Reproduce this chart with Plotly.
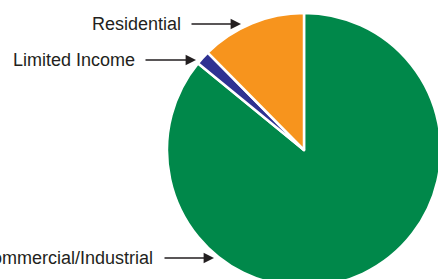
import plotly.graph_objects as go

labels = ["Residential", "Limited Income", "Commercial/Industrial"]
values = [12.4, 1.7, 85.9]
colors = ["#f7941d", "#2e3192", "#00884a"]

W, H = 460, 300
cx, cy, r = 304, 150, 137

# drawn clockwise from 12 o'clock in reverse order so slices run counterclockwise
fig = go.Figure(go.Pie(
    labels=labels[::-1], values=values[::-1], sort=False, direction="clockwise",
    rotation=0, textinfo="none", hoverinfo="label+percent",
    marker=dict(colors=colors[::-1], line=dict(color="white", width=2.5)),
    domain=dict(x=[(cx - r) / W, (cx + r) / W], y=[(H - cy - r) / H, (H - cy + r) / H]),
    showlegend=False,
))

# label text (right edge x, center y) and arrow (tail x, tip x) in pixels
label_pos = [(183, 24, 190, 241), (137, 60, 144, 196), (155, 258, 163, 214)]
font = dict(family="Liberation Sans, Arial", size=18, color="#231f20")
for lab, (tx, ty, ax0, ax1) in zip(labels, label_pos):
    fig.add_annotation(x=tx / W, y=1 - ty / H, xref="paper", yref="paper", text=lab,
                       showarrow=False, xanchor="right", yanchor="middle", font=font)
    fig.add_annotation(x=ax1 / W, y=1 - ty / H, xref="paper", yref="paper", text="",
                       showarrow=True, ax=ax0 - ax1, ay=0, arrowhead=2, arrowsize=1.6,
                       arrowwidth=1.3, arrowcolor="#231f20", standoff=0, startstandoff=0)

fig.update_layout(width=W, height=H, margin=dict(l=0, r=0, t=0, b=0),
                  paper_bgcolor="white", plot_bgcolor="white")

fig.write_html("out.html", config=dict(displayModeBar=False),
               post_script="document.body.style.margin='0';document.body.style.overflow='hidden';document.documentElement.style.overflow='hidden';")
